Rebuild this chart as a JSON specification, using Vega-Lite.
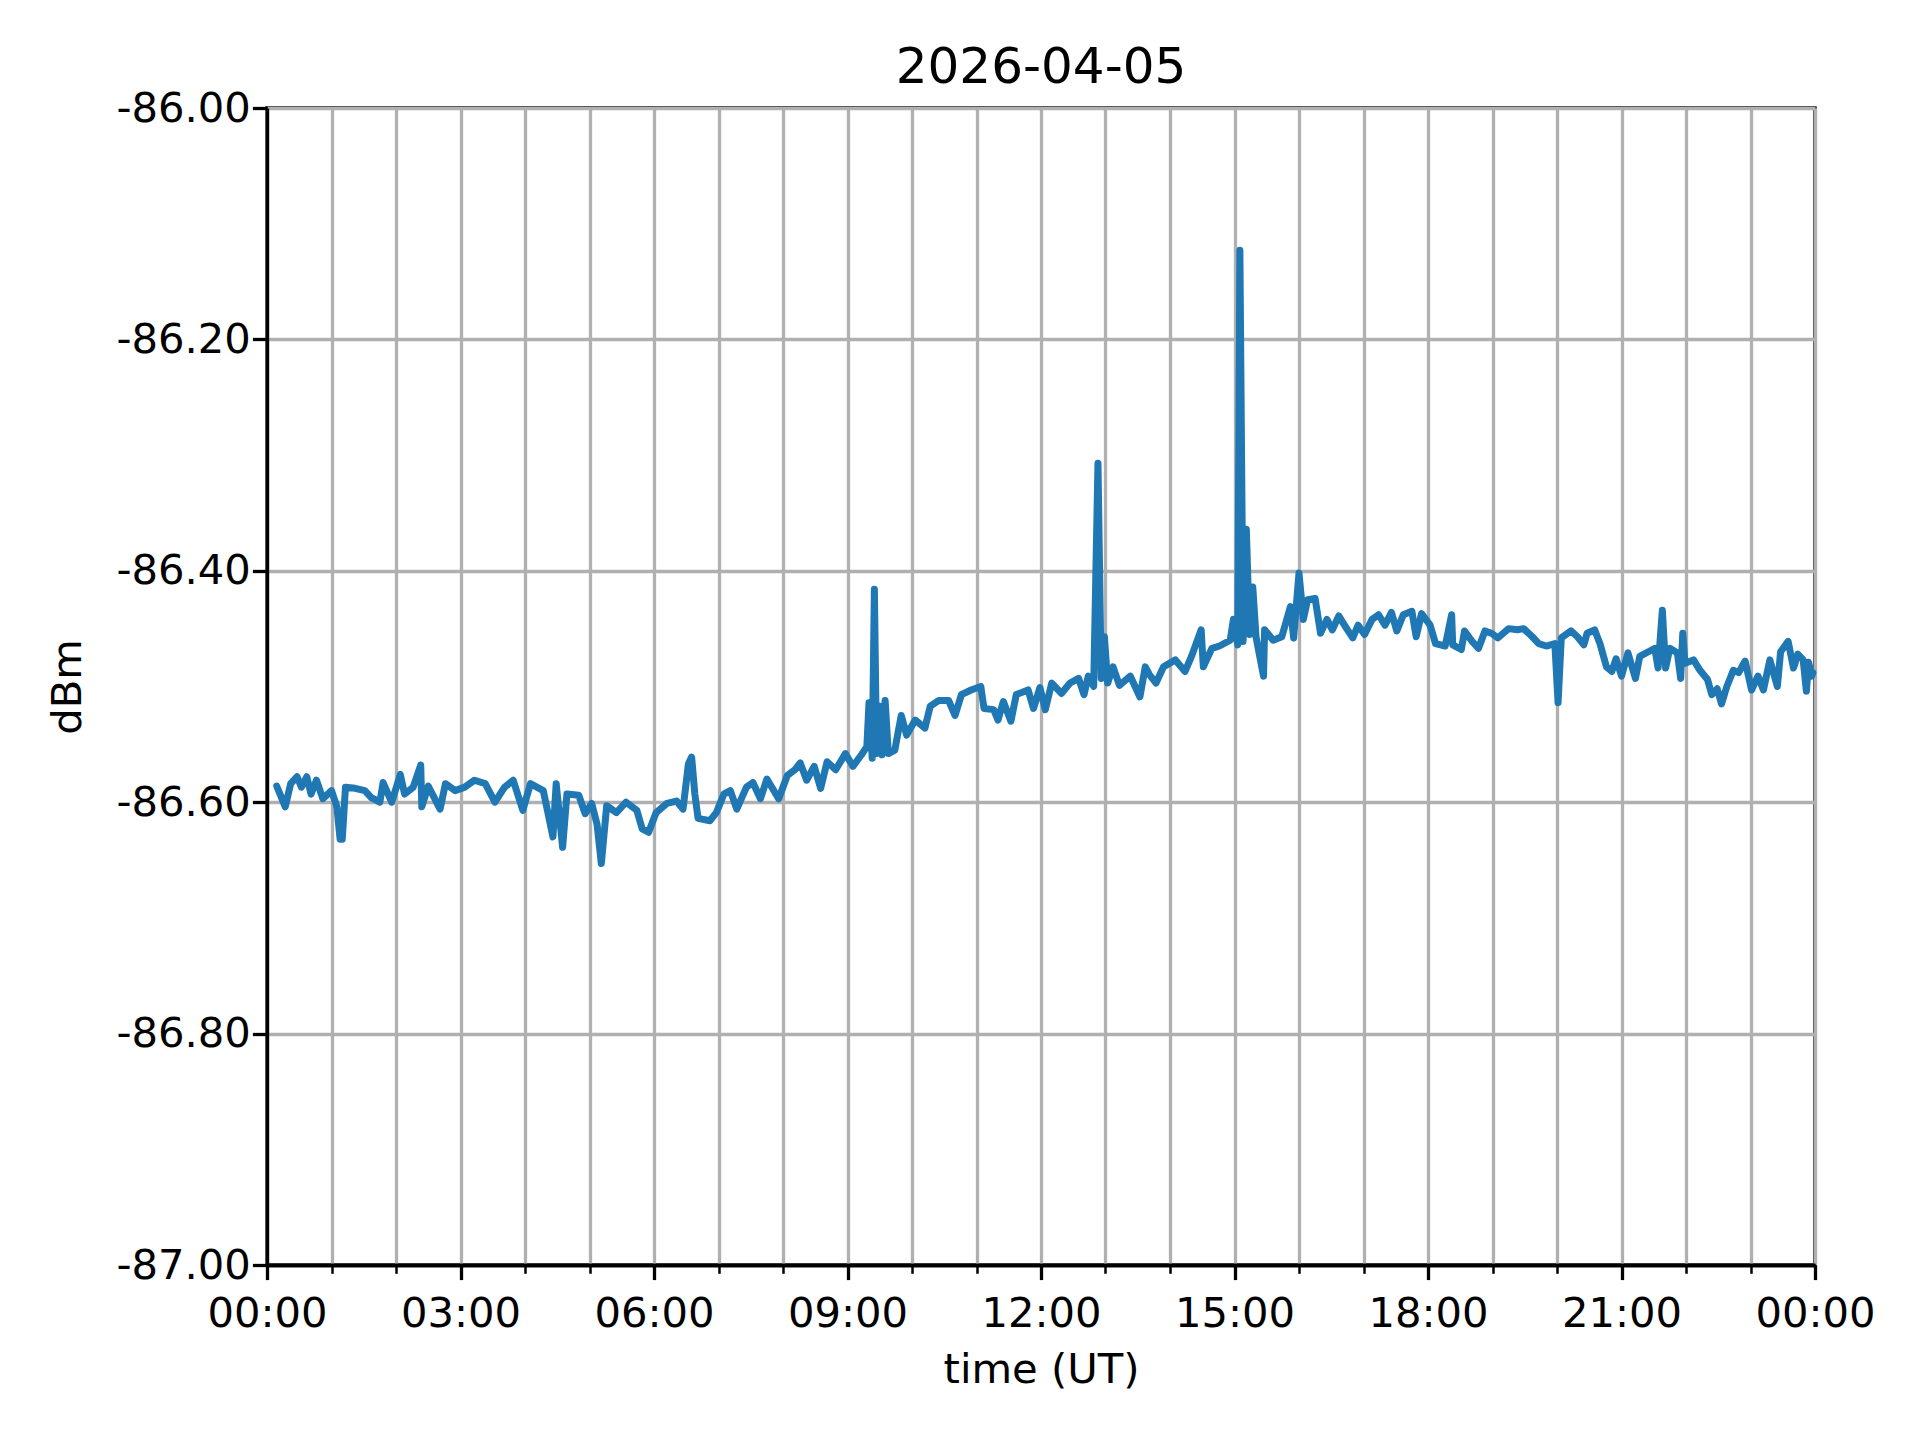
{
  "$schema": "https://vega.github.io/schema/vega-lite/v6.json",
  "width": 1548,
  "height": 1157,
  "autosize": {"type": "none"},
  "padding": {"left": 267, "top": 108, "right": 105, "bottom": 175},
  "background": "white",
  "title": {"text": "2026-04-05", "fontSize": 50, "font": "DejaVu Sans", "fontWeight": "normal", "offset": -5, "anchor": "middle", "color": "black"},
  "config": {
    "locale": {"number": {"decimal": ".", "thousands": ",", "grouping": [3], "currency": ["$", ""], "minus": "-"}},
    "view": {"stroke": "black", "strokeWidth": 3.3},
    "axis": {"labelFont": "DejaVu Sans", "titleFont": "DejaVu Sans", "labelFontSize": 41.7, "titleFontSize": 41.7, "titleFontWeight": "normal", "labelColor": "black", "titleColor": "black", "domainColor": "black", "domainWidth": 3.3, "tickColor": "black", "gridColor": "#b0b0b0", "gridWidth": 3.3, "gridOpacity": 1}
  },
  "data": {"values": [
    {"t": "2026-04-05T00:09:00Z", "v": -86.586},
    {"t": "2026-04-05T00:17:00Z", "v": -86.604},
    {"t": "2026-04-05T00:22:00Z", "v": -86.584},
    {"t": "2026-04-05T00:28:00Z", "v": -86.578},
    {"t": "2026-04-05T00:32:00Z", "v": -86.587},
    {"t": "2026-04-05T00:37:00Z", "v": -86.578},
    {"t": "2026-04-05T00:41:00Z", "v": -86.593},
    {"t": "2026-04-05T00:46:00Z", "v": -86.581},
    {"t": "2026-04-05T00:52:00Z", "v": -86.597},
    {"t": "2026-04-05T01:00:00Z", "v": -86.590},
    {"t": "2026-04-05T01:05:00Z", "v": -86.604},
    {"t": "2026-04-05T01:08:00Z", "v": -86.632},
    {"t": "2026-04-05T01:10:00Z", "v": -86.632},
    {"t": "2026-04-05T01:13:00Z", "v": -86.587},
    {"t": "2026-04-05T01:22:00Z", "v": -86.588},
    {"t": "2026-04-05T01:31:00Z", "v": -86.590},
    {"t": "2026-04-05T01:37:00Z", "v": -86.596},
    {"t": "2026-04-05T01:45:00Z", "v": -86.600},
    {"t": "2026-04-05T01:48:00Z", "v": -86.583},
    {"t": "2026-04-05T01:56:00Z", "v": -86.600},
    {"t": "2026-04-05T02:04:00Z", "v": -86.576},
    {"t": "2026-04-05T02:08:00Z", "v": -86.593},
    {"t": "2026-04-05T02:16:00Z", "v": -86.587},
    {"t": "2026-04-05T02:23:00Z", "v": -86.568},
    {"t": "2026-04-05T02:24:00Z", "v": -86.604},
    {"t": "2026-04-05T02:30:00Z", "v": -86.586},
    {"t": "2026-04-05T02:41:00Z", "v": -86.606},
    {"t": "2026-04-05T02:46:00Z", "v": -86.584},
    {"t": "2026-04-05T02:55:00Z", "v": -86.590},
    {"t": "2026-04-05T03:04:00Z", "v": -86.587},
    {"t": "2026-04-05T03:13:00Z", "v": -86.581},
    {"t": "2026-04-05T03:23:00Z", "v": -86.584},
    {"t": "2026-04-05T03:32:00Z", "v": -86.600},
    {"t": "2026-04-05T03:41:00Z", "v": -86.587},
    {"t": "2026-04-05T03:49:00Z", "v": -86.581},
    {"t": "2026-04-05T03:58:00Z", "v": -86.607},
    {"t": "2026-04-05T04:05:00Z", "v": -86.584},
    {"t": "2026-04-05T04:17:00Z", "v": -86.590},
    {"t": "2026-04-05T04:26:00Z", "v": -86.630},
    {"t": "2026-04-05T04:29:00Z", "v": -86.584},
    {"t": "2026-04-05T04:35:00Z", "v": -86.639},
    {"t": "2026-04-05T04:39:00Z", "v": -86.593},
    {"t": "2026-04-05T04:50:00Z", "v": -86.594},
    {"t": "2026-04-05T04:56:00Z", "v": -86.610},
    {"t": "2026-04-05T05:02:00Z", "v": -86.601},
    {"t": "2026-04-05T05:07:00Z", "v": -86.619},
    {"t": "2026-04-05T05:11:00Z", "v": -86.653},
    {"t": "2026-04-05T05:16:00Z", "v": -86.603},
    {"t": "2026-04-05T05:25:00Z", "v": -86.609},
    {"t": "2026-04-05T05:34:00Z", "v": -86.600},
    {"t": "2026-04-05T05:44:00Z", "v": -86.607},
    {"t": "2026-04-05T05:49:00Z", "v": -86.623},
    {"t": "2026-04-05T05:55:00Z", "v": -86.626},
    {"t": "2026-04-05T06:02:00Z", "v": -86.609},
    {"t": "2026-04-05T06:12:00Z", "v": -86.601},
    {"t": "2026-04-05T06:21:00Z", "v": -86.599},
    {"t": "2026-04-05T06:27:00Z", "v": -86.606},
    {"t": "2026-04-05T06:32:00Z", "v": -86.567},
    {"t": "2026-04-05T06:35:00Z", "v": -86.561},
    {"t": "2026-04-05T06:38:00Z", "v": -86.593},
    {"t": "2026-04-05T06:41:00Z", "v": -86.614},
    {"t": "2026-04-05T06:52:00Z", "v": -86.616},
    {"t": "2026-04-05T06:58:00Z", "v": -86.609},
    {"t": "2026-04-05T07:05:00Z", "v": -86.593},
    {"t": "2026-04-05T07:11:00Z", "v": -86.590},
    {"t": "2026-04-05T07:17:00Z", "v": -86.606},
    {"t": "2026-04-05T07:26:00Z", "v": -86.587},
    {"t": "2026-04-05T07:32:00Z", "v": -86.583},
    {"t": "2026-04-05T07:39:00Z", "v": -86.597},
    {"t": "2026-04-05T07:45:00Z", "v": -86.580},
    {"t": "2026-04-05T07:56:00Z", "v": -86.597},
    {"t": "2026-04-05T08:04:00Z", "v": -86.577},
    {"t": "2026-04-05T08:11:00Z", "v": -86.572},
    {"t": "2026-04-05T08:16:00Z", "v": -86.566},
    {"t": "2026-04-05T08:22:00Z", "v": -86.581},
    {"t": "2026-04-05T08:29:00Z", "v": -86.569},
    {"t": "2026-04-05T08:35:00Z", "v": -86.588},
    {"t": "2026-04-05T08:41:00Z", "v": -86.565},
    {"t": "2026-04-05T08:49:00Z", "v": -86.572},
    {"t": "2026-04-05T08:58:00Z", "v": -86.558},
    {"t": "2026-04-05T09:05:00Z", "v": -86.569},
    {"t": "2026-04-05T09:13:00Z", "v": -86.559},
    {"t": "2026-04-05T09:18:00Z", "v": -86.552},
    {"t": "2026-04-05T09:20:00Z", "v": -86.514},
    {"t": "2026-04-05T09:23:00Z", "v": -86.562},
    {"t": "2026-04-05T09:25:00Z", "v": -86.416},
    {"t": "2026-04-05T09:27:00Z", "v": -86.558},
    {"t": "2026-04-05T09:30:00Z", "v": -86.517},
    {"t": "2026-04-05T09:32:00Z", "v": -86.559},
    {"t": "2026-04-05T09:35:00Z", "v": -86.512},
    {"t": "2026-04-05T09:38:00Z", "v": -86.558},
    {"t": "2026-04-05T09:44:00Z", "v": -86.555},
    {"t": "2026-04-05T09:50:00Z", "v": -86.525},
    {"t": "2026-04-05T09:55:00Z", "v": -86.542},
    {"t": "2026-04-05T10:03:00Z", "v": -86.529},
    {"t": "2026-04-05T10:12:00Z", "v": -86.536},
    {"t": "2026-04-05T10:17:00Z", "v": -86.517},
    {"t": "2026-04-05T10:25:00Z", "v": -86.512},
    {"t": "2026-04-05T10:34:00Z", "v": -86.512},
    {"t": "2026-04-05T10:40:00Z", "v": -86.525},
    {"t": "2026-04-05T10:46:00Z", "v": -86.507},
    {"t": "2026-04-05T10:55:00Z", "v": -86.503},
    {"t": "2026-04-05T11:04:00Z", "v": -86.500},
    {"t": "2026-04-05T11:07:00Z", "v": -86.519},
    {"t": "2026-04-05T11:16:00Z", "v": -86.520},
    {"t": "2026-04-05T11:20:00Z", "v": -86.529},
    {"t": "2026-04-05T11:25:00Z", "v": -86.513},
    {"t": "2026-04-05T11:32:00Z", "v": -86.530},
    {"t": "2026-04-05T11:37:00Z", "v": -86.507},
    {"t": "2026-04-05T11:48:00Z", "v": -86.503},
    {"t": "2026-04-05T11:53:00Z", "v": -86.519},
    {"t": "2026-04-05T11:59:00Z", "v": -86.501},
    {"t": "2026-04-05T12:04:00Z", "v": -86.520},
    {"t": "2026-04-05T12:10:00Z", "v": -86.497},
    {"t": "2026-04-05T12:19:00Z", "v": -86.506},
    {"t": "2026-04-05T12:27:00Z", "v": -86.497},
    {"t": "2026-04-05T12:35:00Z", "v": -86.493},
    {"t": "2026-04-05T12:40:00Z", "v": -86.507},
    {"t": "2026-04-05T12:44:00Z", "v": -86.491},
    {"t": "2026-04-05T12:49:00Z", "v": -86.500},
    {"t": "2026-04-05T12:53:00Z", "v": -86.307},
    {"t": "2026-04-05T12:56:00Z", "v": -86.493},
    {"t": "2026-04-05T12:59:00Z", "v": -86.457},
    {"t": "2026-04-05T13:02:00Z", "v": -86.497},
    {"t": "2026-04-05T13:07:00Z", "v": -86.483},
    {"t": "2026-04-05T13:13:00Z", "v": -86.499},
    {"t": "2026-04-05T13:23:00Z", "v": -86.491},
    {"t": "2026-04-05T13:32:00Z", "v": -86.509},
    {"t": "2026-04-05T13:37:00Z", "v": -86.483},
    {"t": "2026-04-05T13:41:00Z", "v": -86.490},
    {"t": "2026-04-05T13:47:00Z", "v": -86.497},
    {"t": "2026-04-05T13:54:00Z", "v": -86.483},
    {"t": "2026-04-05T14:05:00Z", "v": -86.477},
    {"t": "2026-04-05T14:14:00Z", "v": -86.487},
    {"t": "2026-04-05T14:20:00Z", "v": -86.474},
    {"t": "2026-04-05T14:29:00Z", "v": -86.451},
    {"t": "2026-04-05T14:31:00Z", "v": -86.483},
    {"t": "2026-04-05T14:39:00Z", "v": -86.467},
    {"t": "2026-04-05T14:46:00Z", "v": -86.465},
    {"t": "2026-04-05T14:56:00Z", "v": -86.460},
    {"t": "2026-04-05T14:59:00Z", "v": -86.442},
    {"t": "2026-04-05T15:03:00Z", "v": -86.464},
    {"t": "2026-04-05T15:05:00Z", "v": -86.123},
    {"t": "2026-04-05T15:08:00Z", "v": -86.461},
    {"t": "2026-04-05T15:11:00Z", "v": -86.364},
    {"t": "2026-04-05T15:14:00Z", "v": -86.455},
    {"t": "2026-04-05T15:17:00Z", "v": -86.414},
    {"t": "2026-04-05T15:20:00Z", "v": -86.457},
    {"t": "2026-04-05T15:27:00Z", "v": -86.491},
    {"t": "2026-04-05T15:28:00Z", "v": -86.451},
    {"t": "2026-04-05T15:36:00Z", "v": -86.460},
    {"t": "2026-04-05T15:44:00Z", "v": -86.457},
    {"t": "2026-04-05T15:52:00Z", "v": -86.431},
    {"t": "2026-04-05T15:55:00Z", "v": -86.458},
    {"t": "2026-04-05T16:00:00Z", "v": -86.402},
    {"t": "2026-04-05T16:04:00Z", "v": -86.442},
    {"t": "2026-04-05T16:08:00Z", "v": -86.425},
    {"t": "2026-04-05T16:15:00Z", "v": -86.424},
    {"t": "2026-04-05T16:20:00Z", "v": -86.454},
    {"t": "2026-04-05T16:26:00Z", "v": -86.442},
    {"t": "2026-04-05T16:31:00Z", "v": -86.451},
    {"t": "2026-04-05T16:37:00Z", "v": -86.439},
    {"t": "2026-04-05T16:43:00Z", "v": -86.448},
    {"t": "2026-04-05T16:50:00Z", "v": -86.458},
    {"t": "2026-04-05T16:55:00Z", "v": -86.447},
    {"t": "2026-04-05T17:01:00Z", "v": -86.455},
    {"t": "2026-04-05T17:08:00Z", "v": -86.442},
    {"t": "2026-04-05T17:14:00Z", "v": -86.438},
    {"t": "2026-04-05T17:20:00Z", "v": -86.447},
    {"t": "2026-04-05T17:26:00Z", "v": -86.436},
    {"t": "2026-04-05T17:31:00Z", "v": -86.452},
    {"t": "2026-04-05T17:37:00Z", "v": -86.438},
    {"t": "2026-04-05T17:45:00Z", "v": -86.435},
    {"t": "2026-04-05T17:49:00Z", "v": -86.457},
    {"t": "2026-04-05T17:54:00Z", "v": -86.437},
    {"t": "2026-04-05T18:02:00Z", "v": -86.447},
    {"t": "2026-04-05T18:07:00Z", "v": -86.463},
    {"t": "2026-04-05T18:16:00Z", "v": -86.465},
    {"t": "2026-04-05T18:22:00Z", "v": -86.438},
    {"t": "2026-04-05T18:23:00Z", "v": -86.464},
    {"t": "2026-04-05T18:31:00Z", "v": -86.468},
    {"t": "2026-04-05T18:34:00Z", "v": -86.452},
    {"t": "2026-04-05T18:41:00Z", "v": -86.461},
    {"t": "2026-04-05T18:47:00Z", "v": -86.467},
    {"t": "2026-04-05T18:53:00Z", "v": -86.452},
    {"t": "2026-04-05T18:59:00Z", "v": -86.454},
    {"t": "2026-04-05T19:05:00Z", "v": -86.458},
    {"t": "2026-04-05T19:15:00Z", "v": -86.450},
    {"t": "2026-04-05T19:23:00Z", "v": -86.451},
    {"t": "2026-04-05T19:29:00Z", "v": -86.450},
    {"t": "2026-04-05T19:37:00Z", "v": -86.457},
    {"t": "2026-04-05T19:43:00Z", "v": -86.463},
    {"t": "2026-04-05T19:50:00Z", "v": -86.465},
    {"t": "2026-04-05T19:58:00Z", "v": -86.463},
    {"t": "2026-04-05T20:01:00Z", "v": -86.514},
    {"t": "2026-04-05T20:04:00Z", "v": -86.458},
    {"t": "2026-04-05T20:13:00Z", "v": -86.452},
    {"t": "2026-04-05T20:19:00Z", "v": -86.457},
    {"t": "2026-04-05T20:25:00Z", "v": -86.464},
    {"t": "2026-04-05T20:28:00Z", "v": -86.454},
    {"t": "2026-04-05T20:35:00Z", "v": -86.451},
    {"t": "2026-04-05T20:40:00Z", "v": -86.463},
    {"t": "2026-04-05T20:46:00Z", "v": -86.483},
    {"t": "2026-04-05T20:51:00Z", "v": -86.487},
    {"t": "2026-04-05T20:55:00Z", "v": -86.476},
    {"t": "2026-04-05T21:00:00Z", "v": -86.491},
    {"t": "2026-04-05T21:06:00Z", "v": -86.471},
    {"t": "2026-04-05T21:13:00Z", "v": -86.493},
    {"t": "2026-04-05T21:17:00Z", "v": -86.474},
    {"t": "2026-04-05T21:25:00Z", "v": -86.470},
    {"t": "2026-04-05T21:31:00Z", "v": -86.467},
    {"t": "2026-04-05T21:34:00Z", "v": -86.484},
    {"t": "2026-04-05T21:38:00Z", "v": -86.434},
    {"t": "2026-04-05T21:41:00Z", "v": -86.484},
    {"t": "2026-04-05T21:45:00Z", "v": -86.467},
    {"t": "2026-04-05T21:52:00Z", "v": -86.471},
    {"t": "2026-04-05T21:55:00Z", "v": -86.493},
    {"t": "2026-04-05T21:57:00Z", "v": -86.454},
    {"t": "2026-04-05T21:59:00Z", "v": -86.480},
    {"t": "2026-04-05T22:07:00Z", "v": -86.477},
    {"t": "2026-04-05T22:13:00Z", "v": -86.486},
    {"t": "2026-04-05T22:20:00Z", "v": -86.494},
    {"t": "2026-04-05T22:24:00Z", "v": -86.507},
    {"t": "2026-04-05T22:29:00Z", "v": -86.502},
    {"t": "2026-04-05T22:33:00Z", "v": -86.515},
    {"t": "2026-04-05T22:38:00Z", "v": -86.500},
    {"t": "2026-04-05T22:44:00Z", "v": -86.486},
    {"t": "2026-04-05T22:49:00Z", "v": -86.488},
    {"t": "2026-04-05T22:55:00Z", "v": -86.478},
    {"t": "2026-04-05T23:01:00Z", "v": -86.503},
    {"t": "2026-04-05T23:07:00Z", "v": -86.491},
    {"t": "2026-04-05T23:12:00Z", "v": -86.503},
    {"t": "2026-04-05T23:18:00Z", "v": -86.477},
    {"t": "2026-04-05T23:25:00Z", "v": -86.500},
    {"t": "2026-04-05T23:28:00Z", "v": -86.470},
    {"t": "2026-04-05T23:35:00Z", "v": -86.461},
    {"t": "2026-04-05T23:40:00Z", "v": -86.484},
    {"t": "2026-04-05T23:44:00Z", "v": -86.472},
    {"t": "2026-04-05T23:49:00Z", "v": -86.477},
    {"t": "2026-04-05T23:52:00Z", "v": -86.504},
    {"t": "2026-04-05T23:54:00Z", "v": -86.479},
    {"t": "2026-04-05T23:57:00Z", "v": -86.491},
    {"t": "2026-04-05T23:58:00Z", "v": -86.488}
  ]},
  "layer": [
    {
      "mark": {"type": "line", "color": "#1f77b4", "strokeWidth": 7, "strokeJoin": "round", "strokeCap": "round"},
      "encoding": {
        "x": {
          "field": "t", "type": "temporal",
          "scale": {"type": "utc", "nice": false, "domain": [{"year": 2026, "month": 4, "date": 5, "hours": 0, "utc": true}, {"year": 2026, "month": 4, "date": 6, "hours": 0, "utc": true}]},
          "axis": {
            "orient": "bottom",
            "title": null,
            "labels": false,
            "grid": true,
            "tickSize": 8.3,
            "tickWidth": 2.5,
            "values": [
              {"year": 2026, "month": 4, "date": 5, "hours": 0, "utc": true},
              {"year": 2026, "month": 4, "date": 5, "hours": 1, "utc": true},
              {"year": 2026, "month": 4, "date": 5, "hours": 2, "utc": true},
              {"year": 2026, "month": 4, "date": 5, "hours": 3, "utc": true},
              {"year": 2026, "month": 4, "date": 5, "hours": 4, "utc": true},
              {"year": 2026, "month": 4, "date": 5, "hours": 5, "utc": true},
              {"year": 2026, "month": 4, "date": 5, "hours": 6, "utc": true},
              {"year": 2026, "month": 4, "date": 5, "hours": 7, "utc": true},
              {"year": 2026, "month": 4, "date": 5, "hours": 8, "utc": true},
              {"year": 2026, "month": 4, "date": 5, "hours": 9, "utc": true},
              {"year": 2026, "month": 4, "date": 5, "hours": 10, "utc": true},
              {"year": 2026, "month": 4, "date": 5, "hours": 11, "utc": true},
              {"year": 2026, "month": 4, "date": 5, "hours": 12, "utc": true},
              {"year": 2026, "month": 4, "date": 5, "hours": 13, "utc": true},
              {"year": 2026, "month": 4, "date": 5, "hours": 14, "utc": true},
              {"year": 2026, "month": 4, "date": 5, "hours": 15, "utc": true},
              {"year": 2026, "month": 4, "date": 5, "hours": 16, "utc": true},
              {"year": 2026, "month": 4, "date": 5, "hours": 17, "utc": true},
              {"year": 2026, "month": 4, "date": 5, "hours": 18, "utc": true},
              {"year": 2026, "month": 4, "date": 5, "hours": 19, "utc": true},
              {"year": 2026, "month": 4, "date": 5, "hours": 20, "utc": true},
              {"year": 2026, "month": 4, "date": 5, "hours": 21, "utc": true},
              {"year": 2026, "month": 4, "date": 5, "hours": 22, "utc": true},
              {"year": 2026, "month": 4, "date": 5, "hours": 23, "utc": true},
              {"year": 2026, "month": 4, "date": 6, "hours": 0, "utc": true}
            ]
          }
        },
        "y": {
          "field": "v", "type": "quantitative",
          "scale": {"domain": [-87, -86], "nice": false, "zero": false},
          "axis": {"title": "dBm", "titlePadding": 27, "values": [-87, -86.8, -86.6, -86.4, -86.2, -86], "format": ".2f", "tickSize": 14.6, "tickWidth": 3.3, "grid": true}
        }
      }
    },
    {
      "mark": {"type": "line", "color": "#1f77b4", "strokeWidth": 7, "opacity": 0},
      "encoding": {
        "x": {
          "field": "t", "type": "temporal",
          "axis": {
            "orient": "bottom",
            "title": "time (UT)",
            "titlePadding": 14,
            "format": "%H:%M",
            "labelPadding": 14,
            "labelFlush": false,
            "grid": false,
            "tickSize": 14.6,
            "tickWidth": 3.3,
            "values": [
              {"year": 2026, "month": 4, "date": 5, "hours": 0, "utc": true},
              {"year": 2026, "month": 4, "date": 5, "hours": 3, "utc": true},
              {"year": 2026, "month": 4, "date": 5, "hours": 6, "utc": true},
              {"year": 2026, "month": 4, "date": 5, "hours": 9, "utc": true},
              {"year": 2026, "month": 4, "date": 5, "hours": 12, "utc": true},
              {"year": 2026, "month": 4, "date": 5, "hours": 15, "utc": true},
              {"year": 2026, "month": 4, "date": 5, "hours": 18, "utc": true},
              {"year": 2026, "month": 4, "date": 5, "hours": 21, "utc": true},
              {"year": 2026, "month": 4, "date": 6, "hours": 0, "utc": true}
            ]
          }
        },
        "y": {
          "field": "v", "type": "quantitative",
          "axis": {"title": "dBm", "titlePadding": 27, "values": [-87, -86.8, -86.6, -86.4, -86.2, -86], "format": ".2f", "tickSize": 14.6, "tickWidth": 3.3, "grid": true}
        }
      }
    }
  ],
  "resolve": {"axis": {"x": "independent"}}
}
